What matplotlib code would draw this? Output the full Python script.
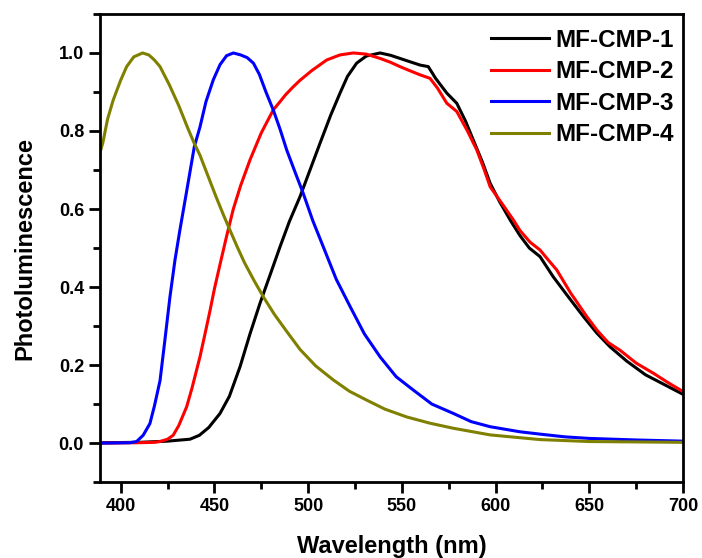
import matplotlib.pyplot as plt
from matplotlib import rcParams
from matplotlib.ticker import MultipleLocator

rcParams["font.family"] = "Liberation Sans"
rcParams["font.weight"] = "bold"

# emission spectra, normalised intensity vs wavelength (nm)
wl1 = [390, 410, 425, 437, 442, 447, 453, 458, 463.7, 469, 474.3, 480, 485, 490, 495.7, 501,
       506.3, 512, 517, 521, 525.9, 531, 538.4, 544, 549, 554, 559.7, 564.1, 568, 574, 579.3,
       584, 588.1, 593, 597.1, 602, 608, 613, 618, 623.7, 630.8, 638, 646.9, 654, 661, 670,
       680, 690, 700]
pl1 = [0.001, 0.002, 0.005, 0.01, 0.02, 0.04, 0.076, 0.12, 0.196, 0.28, 0.358, 0.435, 0.503,
       0.568, 0.632, 0.7, 0.768, 0.84, 0.897, 0.94, 0.974, 0.992, 1.0, 0.994, 0.986, 0.978,
       0.969, 0.965, 0.935, 0.897, 0.871, 0.825, 0.777, 0.72, 0.666, 0.62, 0.57, 0.532, 0.5,
       0.478, 0.426, 0.38, 0.324, 0.282, 0.247, 0.21, 0.175, 0.15, 0.125]

wl2 = [390, 410, 418, 421, 425, 428, 431, 435.2, 438, 442.3, 445, 447.6, 450, 453, 456.5, 460.1,
       464, 469, 475, 481.4, 485, 488, 492, 495.7, 502, 509.9, 517, 524.1, 531, 538.4, 544, 549,
       554, 559.7, 565, 569, 574, 579.3, 585, 590, 594, 597.1, 604, 609.5, 613, 618.4, 623.7,
       628, 632.6, 640, 648.7, 654, 660, 666.4, 675, 684.2, 692, 700]
pl2 = [0.0, 0.001, 0.002, 0.004, 0.01, 0.02, 0.045, 0.093, 0.14, 0.221, 0.28, 0.338, 0.395,
       0.458, 0.53, 0.6, 0.66, 0.726, 0.795, 0.854, 0.875, 0.893, 0.913, 0.93, 0.955, 0.982,
       0.995, 1.0, 0.997, 0.986, 0.976, 0.965, 0.955, 0.944, 0.935, 0.91, 0.871, 0.85, 0.8,
       0.751, 0.7, 0.657, 0.61, 0.572, 0.545, 0.515, 0.495, 0.47, 0.444, 0.385, 0.324, 0.29,
       0.258, 0.238, 0.205, 0.179, 0.155, 0.132]

wl3 = [390, 405, 408.5, 412, 415.6, 418, 421, 423.5, 426.3, 429, 431.6, 435, 439.3, 442.3, 445.5,
       449.4, 453, 456.5, 460.1, 464, 467.5, 470.8, 474, 477.5, 481.4, 485, 488.6, 493, 497.4,
       502.5, 508.1, 515, 522.4, 530, 538.4, 547, 556.1, 566, 577.5, 587, 597.1, 613, 623.7,
       637, 650, 675, 700]
pl3 = [0.0, 0.001, 0.004, 0.02, 0.05, 0.095, 0.16, 0.26, 0.375, 0.47, 0.546, 0.64, 0.76, 0.81,
       0.875, 0.931, 0.97, 0.993, 1.0, 0.995, 0.988, 0.974, 0.945, 0.9, 0.854, 0.805, 0.751,
       0.695, 0.64, 0.57, 0.503, 0.42, 0.35, 0.28, 0.221, 0.17, 0.136, 0.1, 0.076, 0.055,
       0.042, 0.029, 0.023, 0.016, 0.012, 0.008, 0.005]

wl4 = [389, 390.5, 393, 396, 400, 403.2, 407, 411.7, 415, 418, 421, 426, 431, 436, 439.3, 442.3,
       446, 451, 455, 458.3, 462, 466, 471, 476.1, 482, 488, 495.7, 504, 513.4, 522, 531.3,
       541, 552.6, 565, 577.5, 597.1, 623.7, 650, 700]
pl4 = [0.745, 0.77, 0.83, 0.879, 0.93, 0.965, 0.99, 1.0, 0.995, 0.982, 0.965, 0.918, 0.865,
       0.805, 0.768, 0.738, 0.692, 0.63, 0.583, 0.546, 0.505, 0.463, 0.418, 0.375, 0.33, 0.29,
       0.24, 0.198, 0.162, 0.133, 0.11, 0.087, 0.067, 0.051, 0.038, 0.021, 0.009, 0.004, 0.002]

names = ["MF-CMP-1", "MF-CMP-2", "MF-CMP-3", "MF-CMP-4"]
colors = ["black", "#ff0000", "#0000ff", "#808000"]

fig = plt.figure(figsize=(7.02, 5.58), dpi=100)
ax = fig.add_axes([0.1425, 0.136, 0.8305, 0.839])

for x, y, name, col in zip([wl1, wl2, wl3, wl4], [pl1, pl2, pl3, pl4], names, colors):
    ax.plot(x, y, color=col, lw=2.2, label=name)

ax.set_xlim(389, 700)
ax.set_ylim(-0.1, 1.1)
ax.xaxis.set_major_locator(MultipleLocator(50))
ax.xaxis.set_minor_locator(MultipleLocator(25))
ax.yaxis.set_minor_locator(MultipleLocator(0.1))
ax.set_yticks([0.0, 0.2, 0.4, 0.6, 0.8, 1.0])

ax.tick_params(which="major", direction="out", length=8, width=2, labelsize=13)
ax.tick_params(which="minor", direction="out", length=5, width=2)
plt.setp(ax.get_xticklabels() + ax.get_yticklabels(), fontweight="bold")
for s in ax.spines.values():
    s.set_linewidth(2)

ax.set_xlabel("Wavelength (nm)", fontsize=17, fontweight="bold", labelpad=14)
ax.set_ylabel("Photoluminescence", fontsize=17, fontweight="bold", labelpad=16)

ax.legend(loc="upper right", frameon=False, prop={"size": 17.5, "weight": "bold"},
          handlelength=2.4, handletextpad=0.25, labelspacing=0.35,
          borderaxespad=0.1, bbox_to_anchor=(1.005, 0.994))

plt.savefig("out.png")
